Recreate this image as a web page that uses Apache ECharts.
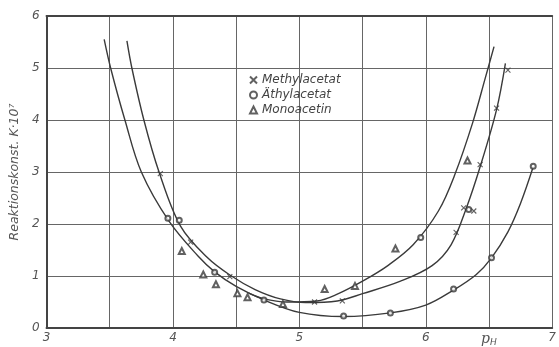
<!DOCTYPE html>
<html><head><meta charset="utf-8">
<script src="https://cdn.jsdelivr.net/npm/echarts@6/dist/echarts.min.js"></script>
<style>html,body{margin:0;padding:0;background:#fff}#c{width:559px;height:347px}</style>
</head><body><div id="c"></div>
<script>
// Fitted curves (pH, K·10^7)
var curveMethyl = [[3.636,5.52],[3.675,5.0],[3.77,4.0],[3.89,3.0],[4.06,1.96],[4.27,1.36],[4.45,1.02],[4.65,0.74],[4.85,0.56],[5.05,0.49],[5.3,0.52],[5.5,0.66],[5.8,0.9],[6.05,1.2],[6.2,1.6],[6.32,2.3],[6.43,3.1],[6.56,4.2],[6.63,5.09]];
var curveAethyl = [[3.456,5.55],[3.507,5.0],[3.62,4.0],[3.75,3.0],[3.97,2.05],[4.2,1.38],[4.33,1.08],[4.5,0.8],[4.72,0.54],[5.0,0.3],[5.35,0.22],[5.72,0.29],[6.0,0.44],[6.22,0.73],[6.4,1.03],[6.52,1.35],[6.65,1.85],[6.75,2.4],[6.85,3.1]];
var curveMono = [[4.6,0.67],[4.72,0.56],[4.9,0.5],[5.14,0.52],[5.3,0.65],[5.5,0.9],[5.7,1.2],[5.9,1.6],[6.1,2.25],[6.23,2.95],[6.37,3.94],[6.47,4.8],[6.54,5.41]];
// Measured points
var ptsMethyl = [[3.9,2.97],[4.14,1.65],[4.45,0.99],[5.12,0.5],[5.34,0.52],[6.24,1.84],[6.3,2.31],[6.38,2.25],[6.43,3.14],[6.56,4.23],[6.65,4.96]];
var ptsAethyl = [[3.96,2.11],[4.05,2.07],[4.33,1.07],[4.72,0.54],[5.35,0.23],[5.72,0.29],[5.96,1.74],[6.22,0.75],[6.34,2.28],[6.52,1.35],[6.85,3.11]];
var ptsMono = [[4.07,1.48],[4.24,1.03],[4.34,0.84],[4.51,0.67],[4.59,0.59],[4.87,0.46],[5.2,0.75],[5.44,0.81],[5.76,1.53],[6.33,3.22]];
var names = ['Methylacetat','Äthylacetat','Monoacetin'];
var yName = 'Reaktionskonst. K·10⁷';

var ink = '#3a3a3a';
var crossPath = 'path://M0,0L10,10M10,0L0,10';
function curve(d){return {type:'line',data:d,smooth:0.35,showSymbol:false,silent:true,
  lineStyle:{color:ink,width:1.4},z:2};}
var chart = echarts.init(document.getElementById('c'));
chart.setOption({
  animation:false,
  backgroundColor:'#fff',
  grid:{left:43,right:0,top:16,bottom:18},
  legend:{orient:'vertical',left:244,top:69,itemGap:3,itemWidth:7,itemHeight:7,
    data:names,textStyle:{fontFamily:'DejaVu Sans',fontStyle:'italic',fontSize:12,color:'#444'}},
  xAxis:[{type:'value',min:3,max:7,interval:0.5,
    axisLine:{show:true,lineStyle:{color:'#444',width:2}},axisTick:{show:false},
    splitLine:{show:true,lineStyle:{color:'#666',width:1}},
    axisLabel:{margin:4,color:'#555',fontStyle:'italic',fontSize:12,fontFamily:'DejaVu Sans',
      formatter:function(v){if(Math.abs(v-6.5)<1e-6)return '{p|p}{h|H}';return (Math.abs(v-Math.round(v))<1e-6)?String(Math.round(v)):'';},
      rich:{p:{fontSize:14,fontStyle:'italic',color:'#555',fontFamily:'DejaVu Serif'},h:{fontSize:9,fontStyle:'italic',color:'#555',padding:[6,0,0,0]}}}},
    {type:'value',position:'top',min:3,max:7,axisLine:{show:true,lineStyle:{color:'#444',width:2}},axisTick:{show:false},axisLabel:{show:false},splitLine:{show:false}}],
  yAxis:{type:'value',min:0,max:6,interval:1,
    axisLine:{show:true,lineStyle:{color:'#444',width:2}},axisTick:{show:false},
    splitLine:{show:true,lineStyle:{color:'#666',width:1}},
    axisLabel:{margin:7,color:'#555',fontStyle:'italic',fontSize:12,fontFamily:'DejaVu Sans'},
    name:yName,nameLocation:'middle',nameGap:24,nameRotate:90,
    nameTextStyle:{color:'#555',fontStyle:'italic',fontSize:12.5,fontFamily:'DejaVu Sans'}},
  series:[
    curve(curveMethyl),curve(curveAethyl),curve(curveMono),
    {name:names[0],type:'scatter',data:ptsMethyl,symbol:crossPath,symbolSize:5,
      itemStyle:{color:'rgba(0,0,0,0)',borderColor:ink,borderWidth:1.1},z:3},
    {name:names[1],type:'scatter',data:ptsAethyl,symbol:'emptyCircle',symbolSize:5,
      itemStyle:{color:ink,borderWidth:1},z:3},
    {name:names[2],type:'scatter',data:ptsMono,symbol:'emptyTriangle',symbolSize:6,
      itemStyle:{color:ink,borderWidth:1},z:3}
  ]
});
</script></body></html>
